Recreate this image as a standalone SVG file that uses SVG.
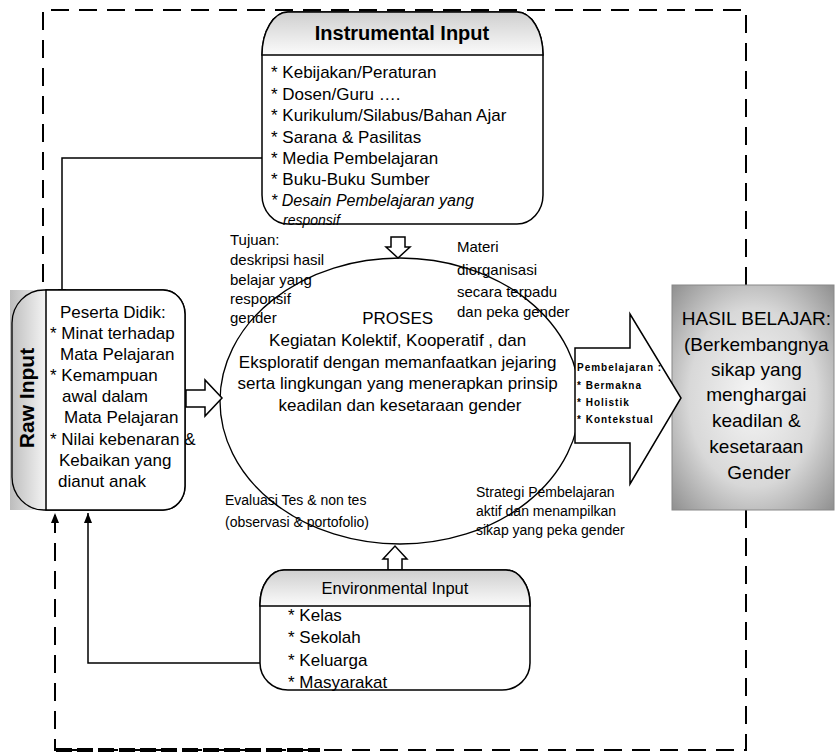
<svg xmlns="http://www.w3.org/2000/svg" width="835" height="755" viewBox="0 0 835 755">
<style>
.t{font-family:"Liberation Sans",Arial,sans-serif;fill:#000}
.box{fill:#fff;stroke:#000;stroke-width:1.5}
.dash{fill:none;stroke:#000;stroke-width:2;stroke-dasharray:18 10}
.line{fill:none;stroke:#000;stroke-width:1.5}
.blk{fill:#fff;stroke:#000;stroke-width:1.5;stroke-linejoin:miter}
</style>
<defs>
<linearGradient id="hdr" x1="0" y1="0" x2="0" y2="1"><stop offset="0" stop-color="#cfcfcf"/><stop offset="1" stop-color="#fbfbfb"/></linearGradient>
<linearGradient id="side" x1="0" y1="0" x2="1" y2="0"><stop offset="0" stop-color="#bdbdbd"/><stop offset="1" stop-color="#f4f4f4"/></linearGradient>
<radialGradient id="res" cx="0.5" cy="0.5" r="0.72"><stop offset="0" stop-color="#f6f6f6"/><stop offset="0.55" stop-color="#d8d8d8"/><stop offset="1" stop-color="#8c8c8c"/></radialGradient>
<marker id="ah" viewBox="0 0 10 8" refX="10" refY="4" markerWidth="11" markerHeight="8" markerUnits="userSpaceOnUse" orient="auto"><path d="M0,0 L10,4 L0,8 z" fill="#000"/></marker>
</defs>

<g id="connectors">
<path class="dash" d="M746,285 V10 H43 V304" marker-end="url(#ah)"/>
<path class="dash" d="M746,510 V750 H55 V513" marker-end="url(#ah)"/>
<path d="M56,750 H320" fill="none" stroke="#000" stroke-width="4" stroke-dasharray="16 5"/>
<path class="line" d="M262,158 H62 V299" marker-end="url(#ah)"/>
<path class="line" d="M260,663 H88 V513" marker-end="url(#ah)"/>
</g>

<g id="proses">
<ellipse cx="400" cy="401" rx="180" ry="143" fill="none" stroke="#000" stroke-width="1.3"/>
<text class="t" font-size="17" text-anchor="middle">
<tspan x="400" y="324">PROSES</tspan>
<tspan x="400" y="346">Kegiatan Kolektif, Kooperatif , dan</tspan>
<tspan x="400" y="368">Eksploratif dengan memanfaatkan jejaring</tspan>
<tspan x="400" y="389">serta lingkungan yang menerapkan prinsip</tspan>
<tspan x="400" y="411">keadilan dan kesetaraan gender</tspan>
</text>
</g>

<g id="instrumental-input">
<path class="box" d="M288,12 H517 A26,43 0 0 1 543,55 V195 A26,29 0 0 1 517,224 H288 A26,29 0 0 1 262,195 V55 A26,43 0 0 1 288,12 Z"/>
<path d="M288,12 H517 A26,43 0 0 1 543,55 H262 A26,43 0 0 1 288,12 Z" fill="url(#hdr)" stroke="#000" stroke-width="1.5"/>
<text class="t" x="402" y="40" font-size="20" font-weight="bold" text-anchor="middle">Instrumental Input</text>
<text class="t" font-size="17">
<tspan x="271" y="78">* Kebijakan/Peraturan</tspan>
<tspan x="271" y="100">* Dosen/Guru ….</tspan>
<tspan x="271" y="121">* Kurikulum/Silabus/Bahan Ajar</tspan>
<tspan x="271" y="143">* Sarana &amp; Pasilitas</tspan>
<tspan x="271" y="164">* Media Pembelajaran</tspan>
<tspan x="271" y="185">* Buku-Buku Sumber</tspan>
</text>
<text class="t" font-size="16" font-style="italic" x="271" y="206">* Desain Pembelajaran yang</text>
<text class="t" font-size="14" font-style="italic" x="283" y="225">responsif</text>
</g>

<g id="arrow-down">
<polygon class="blk" points="391,237 405,237 405,247 410,247 398,258 386,247 391,247"/>
</g>

<g id="raw-input">
<rect x="10" y="290" width="36" height="220" fill="url(#side)"/>
<path d="M163,290 H44 A32,33 0 0 0 12,323 V477 A32,33 0 0 0 44,510 H163 A22,24 0 0 0 185,486 V314 A22,24 0 0 0 163,290 Z" fill="none" stroke="#000" stroke-width="1.3"/>
<path d="M46,290 H163 A22,24 0 0 1 185,314 V486 A22,24 0 0 1 163,510 H46 Z" fill="#fff" stroke="#000" stroke-width="1.5"/>
<text class="t" transform="translate(34,398) rotate(-90)" x="0" y="0" font-size="21" font-weight="bold" text-anchor="middle">Raw Input</text>
<text class="t" font-size="17">
<tspan x="60" y="318">Peserta Didik:</tspan>
<tspan x="50" y="339">* Minat terhadap</tspan>
<tspan x="60" y="360">Mata Pelajaran</tspan>
<tspan x="50" y="381">* Kemampuan</tspan>
<tspan x="62" y="402">awal dalam</tspan>
<tspan x="64" y="423">Mata Pelajaran</tspan>
<tspan x="50" y="445">* Nilai kebenaran &amp;</tspan>
<tspan x="59" y="466">Kebaikan yang</tspan>
<tspan x="58" y="487">dianut anak</tspan>
</text>
</g>

<g id="arrow-right-small">
<polygon class="blk" points="186,390 205,390 205,380 222,398 205,416 205,407 186,407"/>
</g>

<g id="hasil-belajar">
<rect x="672" y="285" width="162" height="225" fill="url(#res)" stroke="#888" stroke-width="1"/>
<text class="t" font-size="19" text-anchor="middle">
<tspan x="759" y="325">HASIL BELAJAR:</tspan>
<tspan x="759" y="351">(Berkembangnya</tspan>
<tspan x="759" y="376">sikap yang</tspan>
<tspan x="759" y="401">menghargai</tspan>
<tspan x="759" y="427">keadilan &amp;</tspan>
<tspan x="759" y="453">kesetaraan</tspan>
<tspan x="759" y="479">Gender</tspan>
</text>
</g>

<g id="arrow-pembelajaran">
<polygon class="blk" points="575,348 630,348 630,314 681,398 630,484 630,443 575,443"/>
<text class="t" font-size="10" font-weight="bold" letter-spacing="1">
<tspan x="577" y="371">Pembelajaran :</tspan>
<tspan x="577" y="389">* Bermakna</tspan>
<tspan x="577" y="406">* Holistik</tspan>
<tspan x="577" y="423">* Kontekstual</tspan>
</text>
</g>

<g id="label-tujuan">
<text class="t" font-size="15">
<tspan x="230" y="245">Tujuan:</tspan>
<tspan x="230" y="265">deskripsi hasil</tspan>
<tspan x="230" y="285">belajar yang</tspan>
<tspan x="230" y="304">responsif</tspan>
<tspan x="230" y="323">gender</tspan>
</text>
</g>

<g id="label-materi">
<text class="t" font-size="15">
<tspan x="457" y="252">Materi</tspan>
<tspan x="457" y="275">diorganisasi</tspan>
<tspan x="457" y="297">secara terpadu</tspan>
<tspan x="457" y="317">dan peka gender</tspan>
</text>
</g>

<g id="label-evaluasi">
<text class="t" font-size="14">
<tspan x="225" y="505">Evaluasi Tes &amp; non tes</tspan>
<tspan x="225" y="527">(observasi &amp; portofolio)</tspan>
</text>
</g>

<g id="label-strategi">
<text class="t" font-size="14">
<tspan x="476" y="497">Strategi Pembelajaran</tspan>
<tspan x="476" y="516">aktif dan menampilkan</tspan>
<tspan x="476" y="535">sikap yang peka gender</tspan>
</text>
</g>

<g id="arrow-up">
<polygon class="blk" points="388,570 388,559 383,559 395,546 407,559 402,559 402,570"/>
</g>

<g id="environmental-input">
<path class="box" d="M284,570 H506 A24,34 0 0 1 530,604 V663 A28,27 0 0 1 502,690 H288 A28,27 0 0 1 260,663 V604 A24,34 0 0 1 284,570 Z"/>
<path d="M284,570 H506 A24,34 0 0 1 530,604 L530,606 H260 L260,604 A24,34 0 0 1 284,570 Z" fill="url(#hdr)" stroke="#000" stroke-width="1.5"/>
<text class="t" x="395" y="594" font-size="16.5" text-anchor="middle">Environmental Input</text>
<text class="t" font-size="17">
<tspan x="288" y="621">* Kelas</tspan>
<tspan x="288" y="643">* Sekolah</tspan>
<tspan x="288" y="666">* Keluarga</tspan>
<tspan x="288" y="688">* Masyarakat</tspan>
</text>
</g>
</svg>
